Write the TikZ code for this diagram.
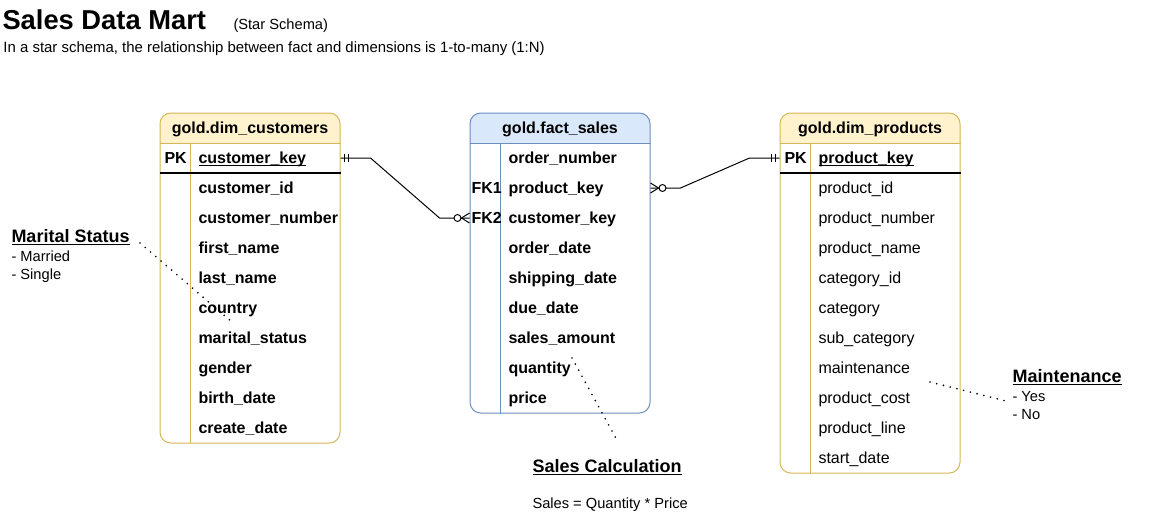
\documentclass[tikz,border=0pt]{standalone}
\usepackage{fontspec}
\setmainfont{Liberation Sans}
\usetikzlibrary{calc}

\definecolor{dimfill}{HTML}{FFF2CC}
\definecolor{dimline}{HTML}{D6B656}
\definecolor{factfill}{HTML}{DAE8FC}
\definecolor{factline}{HTML}{6C8EBF}

\tikzset{
  tablebox/.style={draw=#1, rounded corners=8pt, minimum width=135pt, inner sep=0pt},
  tabletitle/.style={inner sep=0pt, text height=8.6pt, text depth=0pt, font=\bfseries\fontsize{12}{14}\selectfont},
  field/.style={anchor=west, inner sep=0pt, text height=8.6pt, text depth=0pt, font=\fontsize{12}{14}\selectfont},
  boldfield/.style={field, font=\bfseries\fontsize{12}{14}\selectfont},
  notetitle/.style={anchor=base west, inner sep=0pt, font=\bfseries\fontsize{13.5}{16}\selectfont},
  noteitem/.style={anchor=base west, inner sep=0pt, font=\fontsize{11}{13}\selectfont},
  noteline/.style={line width=1.4pt, line cap=round, dash pattern=on 0pt off 5.2pt},
  pics/onlyone/.style={code={\draw (4,-4) -- (4,4) (8,-4) -- (8,4);}},
  pics/zeromany/.style={code={\draw (0,-5) -- (-8,0) -- (0,5); \draw[fill=white] (-12,0) circle[radius=2.6pt];}},
}

\begin{document}
\begin{tikzpicture}[x=0.75pt, y=-0.75pt, line width=0.75pt]
        \useasboundingbox (0,0) rectangle (1150,521);

        % Title
        \node[anchor=base west, inner sep=0pt, font=\bfseries\fontsize{20.5}{24}\selectfont] (title) at (2,29) {Sales Data Mart};
        \node[anchor=base west, inner sep=0pt, font=\fontsize{11}{13}\selectfont] (kind) at (233,29) {(Star Schema)};
        \node[anchor=base west, inner sep=0pt, font=\fontsize{11.2}{13}\selectfont] (sub) at (3,52) {In a star schema, the relationship between fact and dimensions is 1-to-many (1:N)};

        % Header fills
        \begin{scope}
            \clip (150,113) rectangle (350,143);
            \fill[dimfill, rounded corners=8pt] (160,113) rectangle (340,443);
        \end{scope}
        \begin{scope}
            \clip (460,113) rectangle (660,143);
            \fill[factfill, rounded corners=8pt] (470,113) rectangle (650,413);
        \end{scope}
        \begin{scope}
            \clip (770,113) rectangle (970,143);
            \fill[dimfill, rounded corners=8pt] (780,113) rectangle (960,473);
        \end{scope}

        % Tables
        \node[tablebox=dimline, minimum height=247.5pt] (cust) at (250,278) {};
        \node[tablebox=factline, minimum height=225pt] (fact) at (560,263) {};
        \node[tablebox=dimline, minimum height=270pt] (prod) at (870,293) {};

        \draw[dimline] (cust.west |- 0,143) -- (cust.east |- 0,143);
        \draw[dimline] (190,143) -- (190,0 |- cust.south);
        \draw[line width=1.1pt] (cust.west |- 0,173) -- (cust.east |- 0,173);

        \draw[factline] (fact.west |- 0,143) -- (fact.east |- 0,143);
        \draw[factline] (500,143) -- (500,0 |- fact.south);

        \draw[dimline] (prod.west |- 0,143) -- (prod.east |- 0,143);
        \draw[dimline] (810,143) -- (810,0 |- prod.south);
        \draw[line width=1.1pt] (prod.west |- 0,173) -- (prod.east |- 0,173);

        % gold.dim_customers
        \node[tabletitle] (c-title) at (250,128) {gold.dim\_customers};
        \node[boldfield] (c-pk)  at (164,158) {PK};
        \node[boldfield] (c-key) at (198,158) {\underline{\smash{customer\_key}}};
        \node[boldfield] (c-id)  at (198,188) {customer\_id};
        \node[boldfield] (c-num) at (198,218) {customer\_number};
        \node[boldfield] (c-fn)  at (198,248) {first\_name};
        \node[boldfield] (c-ln)  at (198,278) {last\_name};
        \node[boldfield] (c-ctr) at (198,308) {country};
        \node[boldfield] (c-ms)  at (198,338) {marital\_status};
        \node[boldfield] (c-gen) at (198,368) {gender};
        \node[boldfield] (c-bd)  at (198,398) {birth\_date};
        \node[boldfield] (c-cd)  at (198,428) {create\_date};

        % gold.fact_sales
        \node[tabletitle] (f-title) at (560,128) {gold.fact\_sales};
        \node[boldfield] (f-ord)  at (508,158) {order\_number};
        \node[boldfield] (f-fk1)  at (471,188) {FK1};
        \node[boldfield] (f-prod) at (508,188) {product\_key};
        \node[boldfield] (f-fk2)  at (471,218) {FK2};
        \node[boldfield] (f-cust) at (508,218) {customer\_key};
        \node[boldfield] (f-od)   at (508,248) {order\_date};
        \node[boldfield] (f-sd)   at (508,278) {shipping\_date};
        \node[boldfield] (f-dd)   at (508,308) {due\_date};
        \node[boldfield] (f-amt)  at (508,338) {sales\_amount};
        \node[boldfield] (f-qty)  at (508,368) {quantity};
        \node[boldfield] (f-pr)   at (508,398) {price};

        % gold.dim_products
        \node[tabletitle] (p-title) at (870,128) {gold.dim\_products};
        \node[boldfield] (p-pk)   at (784,158) {PK};
        \node[boldfield] (p-key)  at (818,158) {\underline{\smash{product\_key}}};
        \node[field] (p-id)   at (818,188) {product\_id};
        \node[field] (p-num)  at (818,218) {product\_number};
        \node[field] (p-name) at (818,248) {product\_name};
        \node[field] (p-cid)  at (818,278) {category\_id};
        \node[field] (p-cat)  at (818,308) {category};
        \node[field] (p-sub)  at (818,338) {sub\_category};
        \node[field] (p-mnt)  at (818,368) {maintenance};
        \node[field] (p-cost) at (818,398) {product\_cost};
        \node[field] (p-line) at (818,428) {product\_line};
        \node[field] (p-sd)   at (818,458) {start\_date};

        % Relations
        \draw (c-key -| cust.east) -- ++(30,0) -- ($(f-cust -| fact.west)+(-30,0)$) -- (f-cust -| fact.west);
        \pic at (c-key -| cust.east) {onlyone};
        \pic at (f-cust -| fact.west) {zeromany};

        \draw (p-key -| prod.west) -- ++(-30,0) -- ($(f-prod -| fact.east)+(30,0)$) -- (f-prod -| fact.east);
        \pic[xscale=-1] at (p-key -| prod.west) {onlyone};
        \pic[xscale=-1] at (f-prod -| fact.east) {zeromany};

        % Notes
        \node[notetitle] (ms)  at (11,242) {\underline{Marital Status}};
        \node[noteitem]  (ms1) at (11,261) {- Married};
        \node[noteitem]  (ms2) at (11,279) {- Single};
        \coordinate (ms-a) at (140,243);
        \coordinate (ms-b) at (232,322);
        \draw[noteline] (ms-a) -- (ms-b);

        \node[notetitle] (sc)  at (532,472) {\underline{Sales Calculation}};
        \node[noteitem]  (sc1) at (532,508) {Sales = Quantity * Price};
        \coordinate (sc-a) at (572,358);
        \coordinate (sc-b) at (618,442);
        \draw[noteline] (sc-a) -- (sc-b);

        \node[notetitle] (mn)  at (1012,382) {\underline{Maintenance}};
        \node[noteitem]  (mn1) at (1012,401) {- Yes};
        \node[noteitem]  (mn2) at (1012,419) {- No};
        \coordinate (mn-a) at (930,382);
        \coordinate (mn-b) at (1010,402);
        \draw[noteline] (mn-a) -- (mn-b);

    \end{tikzpicture}
\end{document}
